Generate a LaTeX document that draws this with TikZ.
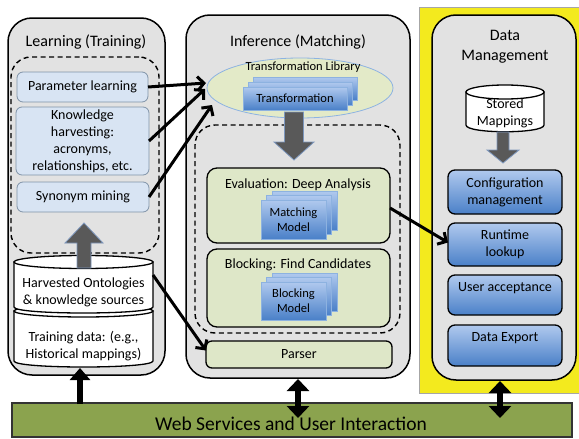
\documentclass[tikz,border=0pt]{standalone}
\usepackage{fontspec}
\setmainfont{Carlito}
\usetikzlibrary{arrows.meta,shapes.geometric}
\definecolor{panelgray}{HTML}{E2E2E2}
\definecolor{lblue}{HTML}{D8E4F3}
\definecolor{lblueedge}{HTML}{8093A8}
\definecolor{lgreen}{HTML}{DEE7C8}
\definecolor{ellgreen}{HTML}{E3EAC8}
\definecolor{elledge}{HTML}{8DB3E2}
\definecolor{bargreen}{HTML}{8BA34E}
\definecolor{yel}{HTML}{F3EA1E}
\definecolor{btop}{HTML}{B0C9EE}
\definecolor{bbot}{HTML}{4A80C8}
\definecolor{stackedge}{HTML}{8DB2E0}
\definecolor{agray}{HTML}{595959}
\definecolor{aedge}{HTML}{7D97BD}
\tikzset{
  sz/.style 2 args={minimum width=#1pt,minimum height=#2pt},
  every node/.style={inner sep=0pt,outer sep=0pt},
  panel/.style={draw=black,line width=1.5pt,fill=panelgray,rounded corners=24pt},
  dashbox/.style={draw=black,line width=1.4pt,dash pattern=on 5pt off 3.5pt,rounded corners=20pt},
  title/.style={font=\fontsize{16}{20}\selectfont,align=center},
  body/.style={font=\fontsize{14}{17}\selectfont,align=center},
  small/.style={font=\fontsize{12.5}{15}\selectfont,align=center},
  lbox/.style={draw=lblueedge,fill=lblue,line width=0.8pt,rounded corners=6pt,body},
  gbox/.style={draw=black,fill=lgreen,line width=1.3pt,rounded corners=10pt},
  stackbox/.style={draw=stackedge,line width=0.6pt,top color=btop,bottom color=bbot,small},
  rbox/.style={draw=black,line width=1.3pt,rounded corners=7pt,top color=btop,bottom color=bbot},
  blockarrow/.style={fill=agray,draw=aedge,line width=0.8pt},
  linkarrow/.style={line width=3pt,-{Straight Barb[length=6.5pt,width=14pt]}},
  bigarrow/.style={line width=6.5pt},
  cyl/.style={draw=black,line width=1.3pt,fill=white},
}
\begin{document}
\begin{tikzpicture}[x=1pt,y=-1pt]
\useasboundingbox (0,0) rectangle (579,439);

% ---------- backgrounds ----------
\node[draw=gray!70,fill=yel,sz={160}{386}] (yellow) at (499,200) {};
\node[panel,sz={157}{357}] (lpanel) at (86.5,196.5) {};
\node[panel,sz={224}{363}] (mpanel) at (298,196.5) {};
\node[panel,sz={144}{365}] (rpanel) at (504,197.5) {};

% ---------- left panel ----------
\node[title] (ltitle) at (86,42) {Learning (Training)};
\node[dashbox,sz={148}{196}] (ldash) at (85,155) {};
\node[lbox,sz={131}{30}] (param) at (82.5,87) {Parameter learning};
\node[lbox,sz={133}{68}] (know) at (82.5,141) {Knowledge\\harvesting:\\acronyms,\\relationships, etc.};
\node[lbox,sz={132}{30}] (syn) at (83,197) {Synonym mining};

% cylinder (two segments)
\path[cyl] (14,311) -- (14,361) .. controls (14,369) and (153,369) .. (153,361) -- (153,311) -- cycle;
\path[cyl] (83.5,311) ellipse [x radius=69.5,y radius=6];
\path[cyl] (14,262) -- (14,307) .. controls (14,315) and (153,315) .. (153,307) -- (153,262) -- cycle;
\path[cyl] (83.5,262) ellipse [x radius=69.5,y radius=6.5];
\node[body,minimum width=139pt] (cylA) at (83.5,292) {Harvested Ontologies\\\& knowledge sources};
\node[body,minimum width=139pt] (cylB) at (83.5,346) {Training data: (e.g.,\\Historical mappings)};

% gray up arrow
\path[blockarrow] (77,268) -- (77,243) -- (65,243) -- (84,223) -- (103,243) -- (91,243) -- (91,268) -- cycle;

% ---------- middle panel ----------
\node[title] (mtitle) at (298,42) {Inference (Matching)};
\node[ellipse,draw=elledge,fill=ellgreen,line width=0.8pt,sz={186}{60}] (tlib) at (300,88) {};
\node[small] (tlibtxt) at (303,67) {Transformation Library};
\node[stackbox,sz={104}{23}] (tr3) at (305,88.5) {};
\node[stackbox,sz={104}{23}] (tr2) at (300,93.5) {};
\node[stackbox,sz={104}{23}] (tr1) at (295,98.5) {Transformation};

\node[dashbox,sz={205}{208}] (mdash) at (297.5,229) {};
\path[blockarrow] (284.5,112) -- (284.5,142) -- (274,142) -- (294,160) -- (314,142) -- (303.5,142) -- (303.5,112) -- cycle;

\node[gbox,sz={183}{75}] (eval) at (298.5,205.5) {};
\node[body] (evaltxt) at (298,185) {Evaluation: Deep Analysis};
\node[stackbox,sz={65}{39}] (mm3) at (304.5,210.5) {};
\node[stackbox,sz={65}{39}] (mm2) at (299,215) {};
\node[stackbox,sz={65}{39}] (mm1) at (293.5,219.5) {Matching\\Model};

\node[gbox,sz={183}{78}] (block) at (298.5,288) {};
\node[body] (blocktxt) at (298,265) {Blocking: Find Candidates};
\node[stackbox,sz={65}{38}] (bm3) at (304.5,292) {};
\node[stackbox,sz={65}{38}] (bm2) at (299,296.5) {};
\node[stackbox,sz={65}{38}] (bm1) at (293.5,301) {Blocking\\Model};

\node[gbox,rounded corners=6pt,sz={186}{27},body] (parser) at (299,354.5) {Parser};

% ---------- right panel ----------
\node[title] (rtitle) at (505,47) {Data\\Management};
\path[cyl] (466,92) -- (466,125) .. controls (466,134) and (544,134) .. (544,125) -- (544,92) -- cycle;
\path[cyl] (505,92) ellipse [x radius=39,y radius=7];
\node[body] (stored) at (505,113) {Stored\\Mappings};
\path[blockarrow] (497,132) -- (497,150) -- (487,150) -- (503,163) -- (519,150) -- (509,150) -- (509,132) -- cycle;

\node[rbox,body,sz={114}{44}] (config) at (505,192) {Configuration\\management};
\node[rbox,body,sz={114}{43}] (runtime) at (505,244.5) {Runtime\\lookup};
\node[rbox,sz={114}{40}] (accept) at (505,295) {};
\node[body] (accepttxt) at (505,288) {User acceptance};
\node[rbox,sz={114}{41}] (export) at (505,345.5) {};
\node[body] (exporttxt) at (505,338) {Data Export};

% ---------- bottom bar ----------
\node[draw=black!80,line width=1.2pt,fill=bargreen,sz={560}{34}] (bar) at (292,420) {};
\node[font=\fontsize{19.5}{22}\selectfont] (bartxt) at (291,424) {Web Services and User Interaction};

% ---------- connectors ----------
\coordinate (e1) at (206,83);
\coordinate (e2) at (205,89);
\coordinate (e3) at (212,105);
\draw[linkarrow] (param.east) -- (e1);
\draw[linkarrow] (know.east) -- (e2);
\draw[linkarrow] (syn.east) -- (e3);
\draw[linkarrow] ([yshift=17pt]cylA.east) -- ([yshift=4pt]parser.west);
\draw[linkarrow] ([yshift=-2.5pt]eval.east) -- ([yshift=2pt]runtime.west);

\coordinate (la) at (80,404);
\coordinate (lb) at (80,368);
\coordinate (ma) at (298,379);
\coordinate (mb) at (298,418);
\coordinate (ra) at (500,381);
\coordinate (rb) at (500,418);
\draw[bigarrow,-{Triangle[length=12pt,width=20pt]}] (la) -- (lb);
\draw[bigarrow,{Triangle[length=12pt,width=22pt]}-{Triangle[length=12pt,width=22pt]}] (ma) -- (mb);
\draw[bigarrow,{Triangle[length=12pt,width=22pt]}-{Triangle[length=12pt,width=22pt]}] (ra) -- (rb);
\end{tikzpicture}
\end{document}
